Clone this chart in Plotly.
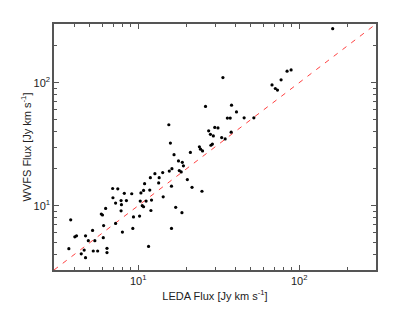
import plotly.graph_objects as go
import numpy as np

leda_flux = [161.5, 84.1, 89.1, 77.2, 67.8, 71.1, 73.3, 33.6, 26.2, 38.0, 40.8, 35.8, 37.3, 45.5, 52.3,
             15.5, 27.4, 29.9, 31.3, 37.8, 28.1, 29.3, 33.0, 34.7, 15.85, 28.9, 28.3, 24.0, 24.4, 25.1,
             21.1, 16.7, 17.8, 18.8, 19.1, 16.2, 15.6, 18.0, 18.5, 14.2, 12.7, 11.9, 13.5, 20.2, 16.1,
             13.4, 10.96, 21.6, 6.94, 7.47, 24.9, 10.8, 11.8, 8.2, 9.12, 10.4, 14.3, 6.97, 7.83, 8.45,
             11.2, 10.3, 12.1, 7.24, 7.87, 10.6, 10.8, 17.1, 6.28, 7.83, 12.0, 18.7, 5.9, 6.0, 10.2,
             9.35, 3.81, 7.24, 6.1, 16.1, 9.26, 7.98, 5.21, 4.04, 4.14, 4.71, 6.07, 4.9, 5.38, 3.71,
             4.62, 5.26, 5.6, 6.4, 6.4, 11.6, 4.43, 4.71]
wvfs_flux = [275, 124, 127, 105.6, 95.9, 89.7, 87.1, 110, 64.1, 65.7, 57.8, 51.6, 51.6, 51.8, 51.8,
             45.5, 40.6, 43.3, 42.9, 39.6, 38.0, 36.9, 35.8, 34.9, 32.3, 31.7, 31.0, 30.1, 28.8, 27.9,
             27.1, 26.0, 23.1, 22.5, 21.1, 20.0, 19.1, 19.3, 18.8, 18.6, 18.2, 16.9, 16.9, 16.3, 14.4,
             15.3, 15.1, 14.1, 13.8, 13.7, 13.1, 13.3, 13.4, 12.6, 12.5, 12.7, 11.8, 11.6, 11.0, 11.0,
             10.9, 10.9, 11.1, 10.5, 10.2, 10.0, 9.8, 9.7, 9.5, 9.08, 9.14, 8.77, 8.56, 8.4, 8.24,
             8.1, 7.68, 7.18, 6.89, 6.53, 6.53, 6.1, 6.29, 5.58, 5.69, 5.69, 5.49, 5.19, 5.19, 4.47,
             4.36, 4.28, 4.28, 4.5, 4.16, 4.66, 4.06, 3.78]

line_ends = [3, 300]
tick_vals = [10, 100]
tick_text = ["10<sup>1</sup>", "10<sup>2</sup>"]
minor_vals = [4, 5, 6, 7, 8, 9, 20, 30, 40, 50, 60, 70, 80, 90, 200, 300]

fig = go.Figure()
fig.add_trace(go.Scatter(x=line_ends, y=line_ends, mode="lines",
                         line=dict(color="#ff4040", width=1, dash="5px,6px"),
                         hoverinfo="skip", showlegend=False))
fig.add_trace(go.Scatter(x=leda_flux, y=wvfs_flux, mode="markers",
                         marker=dict(color="black", size=3.2, line=dict(width=0)),
                         showlegend=False))

font_main = dict(family="Liberation Sans, Arial", size=11, color="#222222")

axis_common = dict(
    type="log", range=[np.log10(3), np.log10(300)],
    showline=True, linecolor="#555555", linewidth=1.5, mirror="ticks",
    ticks="inside", ticklen=5, tickcolor="#555555", tickwidth=1,
    tickmode="array", tickvals=tick_vals, ticktext=tick_text,
    showgrid=False, zeroline=False,
    minor=dict(ticks="inside", ticklen=3, tickcolor="#555555", tickwidth=1,
               tickmode="array", tickvals=minor_vals, showgrid=False),
    tickfont=font_main,
)

fig.update_layout(
    width=407, height=305,
    margin=dict(l=45.5, r=39, t=15.5, b=35.5),
    paper_bgcolor="white", plot_bgcolor="white",
    xaxis=dict(**axis_common,
               title=dict(text="LEDA Flux [Jy km s<sup>-1</sup>]", standoff=6, font=font_main)),
    yaxis=dict(**axis_common,
               title=dict(text="WVFS Flux [Jy km s<sup>-1</sup>]", standoff=0, font=font_main)),
)

fig.write_html("out.html")
